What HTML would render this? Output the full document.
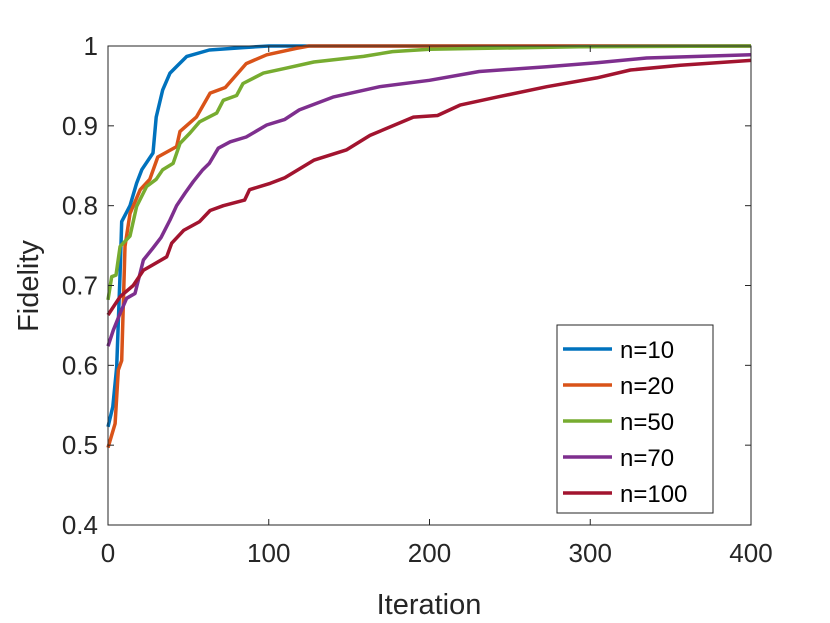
<!DOCTYPE html>
<html><head><meta charset="utf-8"><style>
body{margin:0;background:#fff}
svg{display:block;font-family:"Liberation Sans",sans-serif}
</style></head><body>
<svg id="chart" width="830" height="623" viewBox="0 0 830 623" xmlns="http://www.w3.org/2000/svg">
<g id="marks"></g>
<g id="axes"></g>
</svg>
<script>
const xTicks=[0,100,200,300,400];
const yTicks=[0.4,0.5,0.6,0.7,0.8,0.9,1];
const yTickLabels=["0.4","0.5","0.6","0.7","0.8","0.9","1"];
const seriesNames=["n=10","n=20","n=50","n=70","n=100"];
const seriesColors=["#0072BD","#D95319","#77AC30","#7E2F8E","#A2142F"];
const itersN10=[0,3,5.4,7.5,8.5,13.7,17.8,21,28,30,34,38.6,43,49,63,84,100,400];
const fidN10=[0.523,0.548,0.598,0.716,0.78,0.80,0.828,0.845,0.866,0.911,0.945,0.966,0.975,0.987,0.995,0.998,1,1];
const itersN20=[0,4.4,6.4,8.5,10.6,13.7,20,26,31,42.7,44.8,55,63.5,73,86,98.7,117,125,400];
const fidN20=[0.497,0.527,0.594,0.606,0.749,0.79,0.82,0.833,0.861,0.874,0.893,0.911,0.941,0.948,0.978,0.989,0.997,1,1];
const itersN50=[0,2.3,5,7.5,13.7,17.8,24,30,34,40.5,44.8,51,57,67.6,71.7,80,84,96.7,110,128,159,177,200,293,400];
const fidN50=[0.682,0.711,0.713,0.749,0.762,0.799,0.824,0.833,0.845,0.853,0.878,0.891,0.905,0.916,0.932,0.938,0.953,0.966,0.972,0.980,0.987,0.993,0.996,0.999,1];
const itersN70=[0,3.3,7.5,11.6,16.8,22,28,33,38.6,42.7,48,53,59,63,68.6,76,86,98.7,110,119,140,169,200,231,273,304,335,400];
const fidN70=[0.624,0.644,0.665,0.684,0.69,0.732,0.747,0.76,0.782,0.80,0.816,0.83,0.845,0.853,0.872,0.88,0.886,0.901,0.908,0.92,0.936,0.949,0.957,0.968,0.974,0.979,0.985,0.989];
const itersN100=[0,7.5,15.7,22,28,36.5,39.6,47,57,63.5,71.7,85,88,101,110,128,148.5,163,190,205,219,242,273,304,325,356,400];
const fidN100=[0.663,0.686,0.70,0.719,0.726,0.736,0.753,0.769,0.78,0.794,0.80,0.807,0.82,0.828,0.835,0.857,0.87,0.888,0.911,0.913,0.926,0.936,0.949,0.96,0.97,0.976,0.982];
const allIters=[itersN10,itersN20,itersN50,itersN70,itersN100];
const allFid=[fidN10,fidN20,fidN50,fidN70,fidN100];

const L=108,R=751,T=46,B=525;
const xS=v=>L+(v-0)/(400-0)*(R-L);
const yS=v=>B-(v-0.4)/(1-0.4)*(B-T);
const NS="http://www.w3.org/2000/svg";
const marks=document.getElementById('marks');
const axes=document.getElementById('axes');
function mk(tag,attrs,parent){const e=document.createElementNS(NS,tag);for(const k in attrs)e.setAttribute(k,attrs[k]);parent.appendChild(e);return e;}

allIters.forEach((xs,i)=>{
  const d=xs.map((x,j)=>(j?'L':'M')+xS(x).toFixed(1)+' '+yS(allFid[i][j]).toFixed(1)).join(' ');
  const p=mk('path',{d:d,fill:'none',stroke:seriesColors[i],'stroke-width':3.5,'stroke-linejoin':'round'},marks);
  
  
});

const box=mk('rect',{x:L,y:T,width:R-L,height:B-T,fill:'none',stroke:'#262626','stroke-width':1},axes);


xTicks.forEach(v=>{
  const x=xS(v);
  mk('line',{x1:x,x2:x,y1:B,y2:B-6,stroke:'#262626'},axes);
  mk('line',{x1:x,x2:x,y1:T,y2:T+6,stroke:'#262626'},axes);
  const t=mk('text',{x:x,y:B+37,'text-anchor':'middle','font-size':26,fill:'#262626'},axes);
  t.textContent=String(v);
  
  
});
yTicks.forEach((v,i)=>{
  const y=yS(v);
  mk('line',{x1:L,x2:L+6,y1:y,y2:y,stroke:'#262626'},axes);
  mk('line',{x1:R,x2:R-6,y1:y,y2:y,stroke:'#262626'},axes);
  const t=mk('text',{x:L-10,y:y+9,'text-anchor':'end','font-size':26,fill:'#262626'},axes);
  t.textContent=yTickLabels[i];
  
  
});
const xt=mk('text',{x:429,y:614,'text-anchor':'middle','font-size':29,fill:'#262626'},axes);
xt.textContent='Iteration';


const yt=mk('text',{x:0,y:0,'text-anchor':'middle','font-size':29,fill:'#262626',transform:'translate(38,286) rotate(-90)'},axes);
yt.textContent='Fidelity';



const lg=mk('g',{},axes);


mk('rect',{x:557,y:325,width:156,height:188,fill:'#fff',stroke:'#262626','stroke-width':1},lg);
seriesNames.forEach((n,i)=>{
  const y=349+i*36;
  const g=mk('g',{},lg);
  
  
  mk('line',{x1:563,x2:612,y1:y,y2:y,stroke:seriesColors[i],'stroke-width':3.5},g);
  const t=mk('text',{x:620,y:y+9,'font-size':24,fill:'#000'},g);
  t.textContent=n;
});
</script>
</body></html>
